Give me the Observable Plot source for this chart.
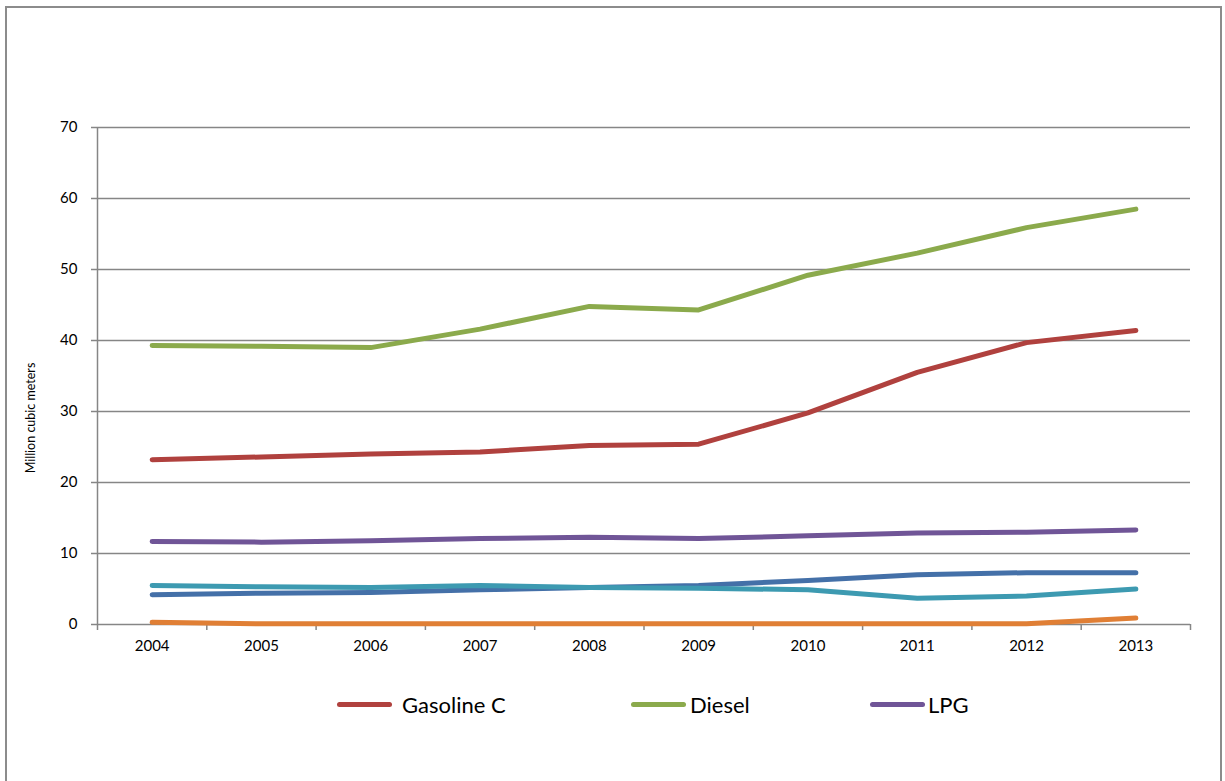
<!DOCTYPE html>
<html>
<head>
<meta charset="utf-8">
<script src="https://cdn.jsdelivr.net/npm/d3@7"></script>
<script src="https://cdn.jsdelivr.net/npm/@observablehq/plot@0.6"></script>
<style>
  html, body { margin: 0; padding: 0; background: #fff; }
  #wrap { position: relative; width: 1225px; height: 781px; overflow: hidden; font-family: Lato, "Open Sans", sans-serif; }
  #frame { position: absolute; left: 5px; top: 6px; width: 1217px; height: 800px; border: 2px solid #8c8c8c; box-sizing: border-box; }
  #chart { position: absolute; left: 0; top: 0; }
  #ylabel { position: absolute; left: 30px; top: 418px; transform: translate(-50%, -50%) rotate(-90deg); font-size: 12.5px; white-space: nowrap; color: #000; }
  .leg { position: absolute; top: 691px; display: flex; align-items: center; font-size: 22px; color: #000; }
  .sw { display: inline-block; width: 55px; height: 5px; border-radius: 3px; }
</style>
</head>
<body>
<div id="wrap">
  <div id="frame"></div>
  <div id="chart"></div>
  <div id="ylabel">Million cubic meters</div>
  <div id="legend"></div>
</div>
<script>
const years = [2004, 2005, 2006, 2007, 2008, 2009, 2010, 2011, 2012, 2013];
const gasolineC = [23.2, 23.6, 24.0, 24.3, 25.2, 25.4, 29.8, 35.5, 39.7, 41.4];
const diesel    = [39.3, 39.2, 39.0, 41.6, 44.8, 44.3, 49.2, 52.3, 55.9, 58.5];
const lpg       = [11.7, 11.6, 11.8, 12.1, 12.3, 12.1, 12.5, 12.9, 13.0, 13.3];
const seriesBlue   = [4.2, 4.4, 4.5, 4.9, 5.2, 5.5, 6.2, 7.0, 7.3, 7.3];
const seriesTeal   = [5.5, 5.3, 5.2, 5.5, 5.2, 5.1, 4.9, 3.7, 4.0, 5.0];
const seriesOrange = [0.3, 0.1, 0.1, 0.1, 0.1, 0.1, 0.1, 0.1, 0.1, 0.9];
const yTicks = [0, 10, 20, 30, 40, 50, 60, 70];

const seriesNames  = ["Gasoline C", "Diesel", "LPG", "Series 4", "Series 5", "Series 6"];
const seriesValues = [gasolineC, diesel, lpg, seriesBlue, seriesTeal, seriesOrange];
const seriesColors = ["#B0413E", "#8BAA4C", "#705597", "#4470A8", "#3D9AB1", "#E07F35"];
const legendNames  = ["Gasoline C", "Diesel", "LPG"];

const rows = [];
seriesNames.forEach((name, i) => {
  years.forEach((yr, j) => rows.push({series: name, year: yr, value: seriesValues[i][j]}));
});

const bounds = years.map(y => y - 0.5).concat([years[years.length - 1] + 0.5]);

const plot = Plot.plot({
  width: 1225,
  height: 781,
  marginLeft: 97,
  marginRight: 35,
  marginTop: 127,
  marginBottom: 157,
  style: {fontFamily: "Lato, 'Open Sans', sans-serif", fontSize: "15px", background: "transparent", color: "#000"},
  x: {type: "linear", domain: [bounds[0], bounds[bounds.length - 1]]},
  y: {domain: [0, 70]},
  color: {domain: seriesNames, range: seriesColors},
  marks: [
    Plot.gridY(yTicks, {stroke: "#868686", strokeOpacity: 1, strokeWidth: 1.5}),
    Plot.ruleX([bounds[0]], {stroke: "#868686", strokeWidth: 1.5}),
    Plot.axisY(yTicks, {tickSize: 6, tickPadding: 14, stroke: "#868686", strokeWidth: 1.5, fontSize: 15, label: null}),
    Plot.axisX(bounds, {tickSize: 6, tickFormat: () => "", stroke: "#868686", strokeWidth: 1.5, label: null}),
    Plot.axisX(years, {tickSize: 0, tickPadding: 16, tickFormat: d => String(d), fontSize: 15, label: null}),
    Plot.line(rows, {x: "year", y: "value", z: "series", stroke: "series", strokeWidth: 5, strokeLinecap: "round", strokeLinejoin: "round", curve: "linear"})
  ]
});
document.getElementById("chart").appendChild(plot);

const legendX = [337, 631, 870];
const legendGap = [10, 4, 3];
const legend = document.getElementById("legend");
legendNames.forEach((name, i) => {
  const el = document.createElement("div");
  el.className = "leg";
  el.style.left = legendX[i] + "px";
  const sw = document.createElement("span");
  sw.className = "sw";
  sw.style.background = seriesColors[seriesNames.indexOf(name)];
  sw.style.marginRight = legendGap[i] + "px";
  const tx = document.createElement("span");
  tx.textContent = name;
  el.appendChild(sw);
  el.appendChild(tx);
  legend.appendChild(el);
});
</script>
</body>
</html>
